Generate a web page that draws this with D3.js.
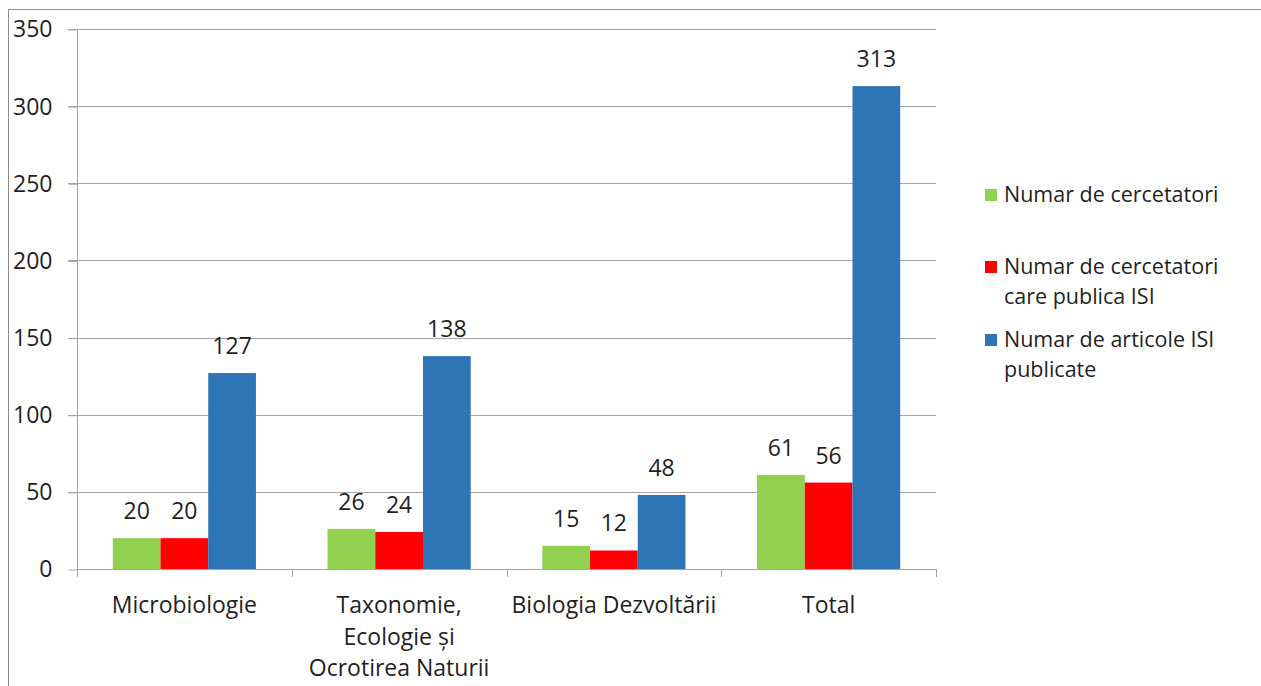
<!DOCTYPE html>
<html>
<head>
<meta charset="utf-8">
<script src="https://cdn.jsdelivr.net/npm/d3@7"></script>
<style>
  html, body { margin: 0; padding: 0; background: #fff; }
  svg { display: block; }
  text { font-family: "Open Sans", sans-serif; fill: #1f1f1f; }
</style>
</head>
<body>
<svg id="chart" width="1261" height="686"></svg>
<script>
const categories = [
  ["Microbiologie"],
  ["Taxonomie,", "Ecologie și", "Ocrotirea Naturii"],
  ["Biologia Dezvoltării"],
  ["Total"]
];
const seriesNames = [
  ["Numar de cercetatori"],
  ["Numar de cercetatori", "care publica ISI"],
  ["Numar de articole ISI", "publicate"]
];
const seriesColors = ["#92D050", "#FF0000", "#2E75B6"];
const cercetatori = [20, 26, 15, 61];
const cercetatoriISI = [20, 24, 12, 56];
const articoleISI = [127, 138, 48, 313];
const series = [cercetatori, cercetatoriISI, articoleISI];
const yTicks = [0, 50, 100, 150, 200, 250, 300, 350];

const svg = d3.select("#chart");
const W = 1261, H = 686;
const plot = { left: 77, right: 936, top: 29, bottom: 569 };
const FS = 23;

// outer frame (right and bottom edges lie outside the picture)
svg.append("rect")
  .attr("x", 8.5).attr("y", 9.5)
  .attr("width", W + 20).attr("height", H + 20)
  .attr("fill", "none").attr("stroke", "#8c8c8c").attr("stroke-width", 1);

const idx = d3.range(categories.length);
const x = d3.scaleBand().domain(idx).range([plot.left, plot.right]).paddingInner(0).paddingOuter(0);
const y = d3.scaleLinear().domain([0, 350]).range([plot.bottom, plot.top]);

// gridlines
svg.append("g")
  .selectAll("line").data(yTicks.filter(d => d > 0)).join("line")
  .attr("x1", plot.left - 9).attr("x2", plot.right)
  .attr("y1", d => Math.round(y(d)) + 0.5).attr("y2", d => Math.round(y(d)) + 0.5)
  .attr("stroke", "#a6a6a6").attr("stroke-width", 1);

// y axis
const yAxis = d3.axisLeft(y).tickValues(yTicks).tickSize(9).tickPadding(16).tickFormat(d3.format("d"));
const gy = svg.append("g").attr("transform", `translate(${plot.left + 0.5},0.5)`).call(yAxis);
gy.select(".domain").attr("stroke", "#a6a6a6").attr("d", `M0,${plot.top}V${plot.bottom}`);
gy.selectAll(".tick line").attr("stroke", "#a6a6a6");
gy.selectAll(".tick text").attr("font-size", FS).attr("font-family", "Open Sans, sans-serif").attr("fill", "#1f1f1f");

// grouped bars
const inner = d3.scaleBand().domain([0, 1, 2])
  .range([0, x.bandwidth()]).paddingInner(0).paddingOuter(0.75);

const barsG = svg.append("g");
series.forEach((vals, s) => {
  barsG.selectAll(null).data(vals).join("rect")
    .attr("x", (d, i) => x(i) + inner(s))
    .attr("width", inner.bandwidth())
    .attr("y", d => y(d))
    .attr("height", d => y(0) - y(d))
    .attr("fill", seriesColors[s]);
  barsG.selectAll(null).data(vals).join("text")
    .attr("x", (d, i) => x(i) + inner(s) + inner.bandwidth() / 2)
    .attr("y", d => y(d) - 19)
    .attr("text-anchor", "middle")
    .attr("font-size", FS)
    .text(d => d);
});

// x axis
svg.append("line")
  .attr("x1", plot.left).attr("x2", plot.right)
  .attr("y1", plot.bottom + 0.5).attr("y2", plot.bottom + 0.5)
  .attr("stroke", "#a6a6a6");
const bounds = idx.map(i => x(i)).concat([plot.right]);
svg.append("g").selectAll("line").data(bounds).join("line")
  .attr("x1", d => Math.round(d) + 0.5).attr("x2", d => Math.round(d) + 0.5)
  .attr("y1", plot.bottom).attr("y2", plot.bottom + 8)
  .attr("stroke", "#a6a6a6");

const catG = svg.append("g");
categories.forEach((lines, i) => {
  const t = catG.append("text")
    .attr("x", x(i) + x.bandwidth() / 2)
    .attr("y", 613)
    .attr("text-anchor", "middle")
    .attr("font-size", FS);
  lines.forEach((ln, k) => {
    t.append("tspan").attr("x", x(i) + x.bandwidth() / 2).attr("dy", k === 0 ? 0 : 31.5).text(ln);
  });
});

// legend
const legendY = [195, 267, 340];
const leg = svg.append("g");
seriesNames.forEach((lines, s) => {
  leg.append("rect")
    .attr("x", 985).attr("y", legendY[s] - 6)
    .attr("width", 12).attr("height", 12)
    .attr("fill", seriesColors[s]);
  const t = leg.append("text")
    .attr("x", 1004).attr("y", legendY[s] + 7)
    .attr("font-size", 21.5);
  lines.forEach((ln, k) => {
    t.append("tspan").attr("x", 1004).attr("dy", k === 0 ? 0 : 30).text(ln);
  });
});
</script>
</body>
</html>
